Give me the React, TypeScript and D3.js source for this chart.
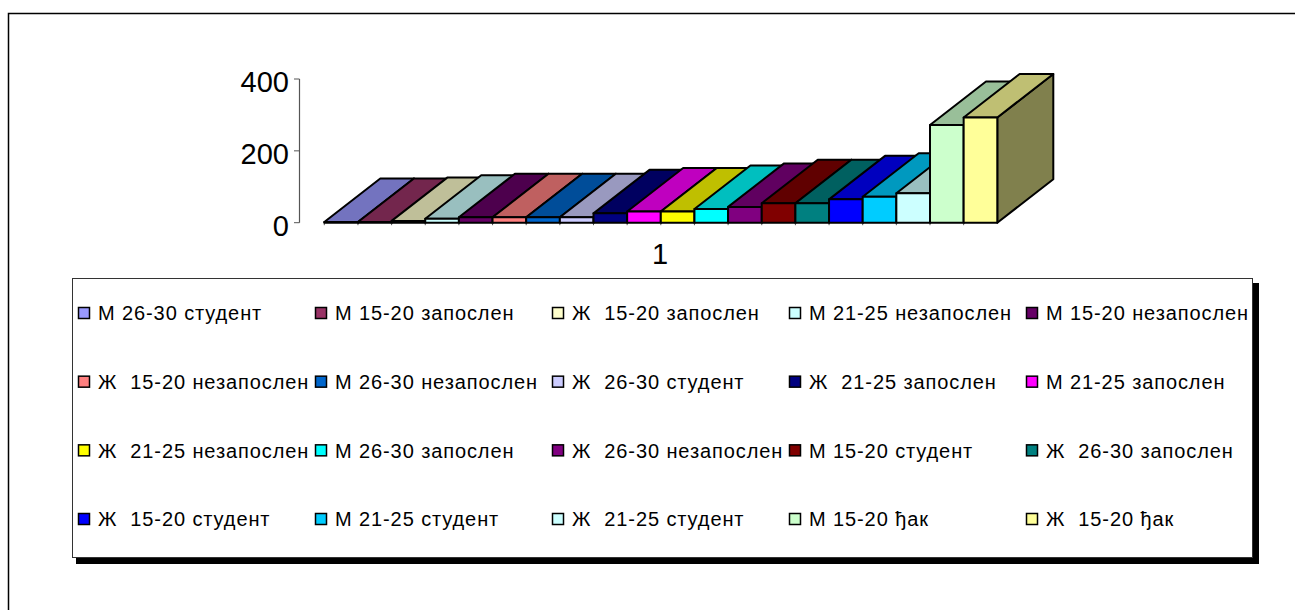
import * as d3 from 'd3';

const WIDTH = 1295;
const HEIGHT = 610;
const FONT = '"Liberation Sans", Arial, sans-serif';

// legend order, also the order of the bars
const seriesNames = [
  'М 26-30 студент', 'М 15-20 запослен', 'Ж  15-20 запослен', 'М 21-25 незапослен', 'М 15-20 незапослен',
  'Ж  15-20 незапослен', 'М 26-30 незапослен', 'Ж  26-30 студент', 'Ж  21-25 запослен', 'М 21-25 запослен',
  'Ж  21-25 незапослен', 'М 26-30 запослен', 'Ж  26-30 незапослен', 'М 15-20 студент', 'Ж  26-30 запослен',
  'Ж  15-20 студент', 'М 21-25 студент', 'Ж  21-25 студент', 'М 15-20 ђак', 'Ж  15-20 ђак',
];
const seriesValues = [2, 2, 5, 11, 15, 15, 15, 15, 26, 31, 31, 38, 44, 54, 54, 65, 72, 82, 272, 293];
const seriesColors = [
  '#9999FF', '#993366', '#FFFFCC', '#CCFFFF', '#660066',
  '#FF8080', '#0066CC', '#CCCCFF', '#000080', '#FF00FF',
  '#FFFF00', '#00FFFF', '#800080', '#800000', '#008080',
  '#0000FF', '#00CCFF', '#CCFFFF', '#CCFFCC', '#FFFF99',
];
const yTicks = [0, 200, 400];
const categoryLabel = '1';

const DEPTH_X = 56;
const DEPTH_Y = 43.5;

const x = d3.scaleBand<string>().domain(seriesNames).range([324.3, 997.3]).padding(0);
const y = d3.scaleLinear().domain([0, 400]).range([222.7, 79]);

const legendCol = d3.scaleBand<number>().domain(d3.range(5)).range([77, 1262]);
const legendRow = d3.scalePoint<number>().domain(d3.range(4)).range([313, 519]);

const shade = (color: string, k: number) => {
  const c = d3.rgb(color);
  return d3.rgb(c.r * k, c.g * k, c.b * k).formatHex();
};

const poly = (pts: [number, number][]) => d3.line()(pts) + 'Z';

export default function App() {
  const base = y(0);
  const w = x.bandwidth();

  return (
    <svg
      width={WIDTH}
      height={HEIGHT}
      style={{ position: 'absolute', left: 0, top: 0, background: '#fff' }}
      fontFamily={FONT}
    >
      {/* only the top and left edges of the chart border are in the picture */}
      <path d={`M${WIDTH},13.5H8.5V${HEIGHT}`} fill="none" stroke="#000" strokeWidth={1.5} />

      {/* value axis */}
      <line x1={299.5} x2={299.5} y1={y(400)} y2={base} stroke="#555" strokeWidth={1.2} />
      {yTicks.map((t) => (
        <g key={t}>
          <line x1={294} x2={299.5} y1={y(t)} y2={y(t)} stroke="#555" />
          <text x={289} y={y(t) + 2.5} dy="0.36em" textAnchor="end" fontSize={29} fill="#000">{t}</text>
        </g>
      ))}

      {/* bars, painted left to right so the next one hides the side of the last */}
      {seriesNames.map((name, i) => {
        const x0 = x(name)!;
        const x1 = x0 + w;
        const top = y(seriesValues[i]);
        const c = seriesColors[i];
        return (
          <g key={name} stroke="#000" strokeWidth={2} strokeLinejoin="round">
            <line x1={x0} x2={x0} y1={base} y2={base + 2.5} strokeWidth={1} stroke="#555" />
            <path
              d={poly([[x1, base], [x1 + DEPTH_X, base - DEPTH_Y], [x1 + DEPTH_X, top - DEPTH_Y], [x1, top]])}
              fill={shade(c, 0.5)}
            />
            <path
              d={poly([[x0, top], [x0 + DEPTH_X, top - DEPTH_Y], [x1 + DEPTH_X, top - DEPTH_Y], [x1, top]])}
              fill={shade(c, 0.75)}
            />
            <rect x={x0} y={top} width={w} height={base - top} fill={c} />
          </g>
        );
      })}

      <text x={660} y={264} textAnchor="middle" fontSize={29} fill="#000">{categoryLabel}</text>

      {/* legend */}
      <rect x={76} y={283} width={1183} height={281} fill="#000" />
      <rect x={72.5} y={278.5} width={1180} height={279} fill="#fff" stroke="#333" />
      {seriesNames.map((name, i) => {
        const cx = legendCol(i % 5)!;
        const cy = legendRow(Math.floor(i / 5))!;
        return (
          <g key={name}>
            <rect x={cx + 1.5} y={cy - 5.5} width={11} height={11} fill={seriesColors[i]} stroke="#000" strokeWidth={1.5} />
            <text x={cx + 21} y={cy} dy="0.36em" fontSize={20} letterSpacing={0.9} fill="#000" xmlSpace="preserve">{name}</text>
          </g>
        );
      })}
    </svg>
  );
}
